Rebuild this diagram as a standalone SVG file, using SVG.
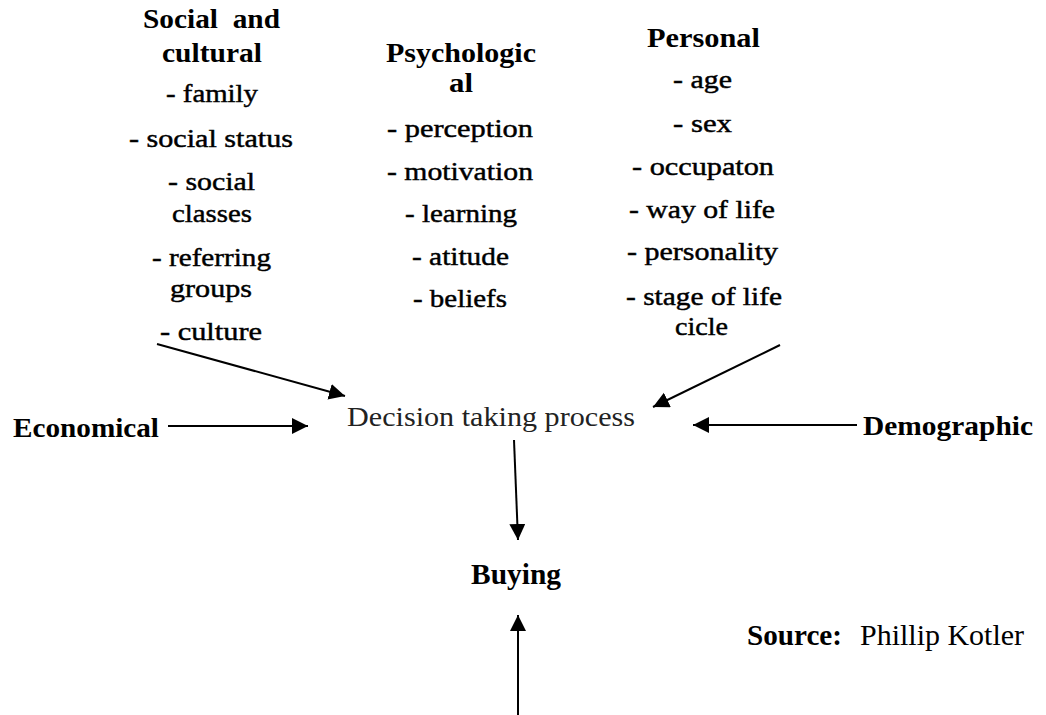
<svg xmlns="http://www.w3.org/2000/svg" width="1046" height="715" viewBox="0 0 1046 715">
<style>
text{font-family:"Liberation Serif","Times New Roman",serif;fill:#000}
.h{font-weight:bold;font-size:28px}
.i{font-size:26px;stroke:#000;stroke-width:0.45}
.big{font-weight:bold;font-size:28px}
.dec{font-size:28px;fill:#222}
.src{font-size:30px}
.c{stroke:#000;stroke-width:2;fill:none;marker-end:url(#ah)}
</style>
<defs>
<marker id="ah" markerUnits="userSpaceOnUse" markerWidth="17" markerHeight="17" refX="16" refY="8" orient="auto">
<path d="M0,0 L16,8 L0,16 z" fill="#000"/>
</marker>
</defs>
<rect width="1046" height="715" fill="#fff"/>
<g id="social-cultural">
<text class="h" x="143" y="28" textLength="137" lengthAdjust="spacingAndGlyphs" style="white-space:pre">Social  and</text>
<text class="h" x="162" y="62" textLength="100" lengthAdjust="spacingAndGlyphs">cultural</text>
<text class="i" x="166" y="102" textLength="92" lengthAdjust="spacingAndGlyphs">- family</text>
<text class="i" x="129" y="147" textLength="164" lengthAdjust="spacingAndGlyphs">- social status</text>
<text class="i" x="168" y="190" textLength="87" lengthAdjust="spacingAndGlyphs">- social</text>
<text class="i" x="172" y="222" textLength="80" lengthAdjust="spacingAndGlyphs">classes</text>
<text class="i" x="152" y="266" textLength="119" lengthAdjust="spacingAndGlyphs">- referring</text>
<text class="i" x="170" y="297" textLength="82" lengthAdjust="spacingAndGlyphs">groups</text>
<text class="i" x="160" y="340" textLength="102" lengthAdjust="spacingAndGlyphs">- culture</text>
</g>
<g id="psychological">
<text class="h" x="386" y="62" textLength="150" lengthAdjust="spacingAndGlyphs">Psychologic</text>
<text class="h" x="449" y="92" textLength="24" lengthAdjust="spacingAndGlyphs">al</text>
<text class="i" x="387" y="137" textLength="146" lengthAdjust="spacingAndGlyphs">- perception</text>
<text class="i" x="387" y="180" textLength="146" lengthAdjust="spacingAndGlyphs">- motivation</text>
<text class="i" x="405" y="222" textLength="112" lengthAdjust="spacingAndGlyphs">- learning</text>
<text class="i" x="412" y="265" textLength="97" lengthAdjust="spacingAndGlyphs">- atitude</text>
<text class="i" x="413" y="307" textLength="94" lengthAdjust="spacingAndGlyphs">- beliefs</text>
</g>
<g id="personal">
<text class="h" x="647" y="47" textLength="113" lengthAdjust="spacingAndGlyphs">Personal</text>
<text class="i" x="673" y="88" textLength="59" lengthAdjust="spacingAndGlyphs">- age</text>
<text class="i" x="673" y="132" textLength="59" lengthAdjust="spacingAndGlyphs">- sex</text>
<text class="i" x="632" y="175" textLength="142" lengthAdjust="spacingAndGlyphs">- occupaton</text>
<text class="i" x="629" y="218" textLength="146" lengthAdjust="spacingAndGlyphs">- way of life</text>
<text class="i" x="627" y="260" textLength="151" lengthAdjust="spacingAndGlyphs">- personality</text>
<text class="i" x="626" y="305" textLength="156" lengthAdjust="spacingAndGlyphs">- stage of life</text>
<text class="i" x="675" y="335" textLength="53" lengthAdjust="spacingAndGlyphs">cicle</text>
</g>
<g id="economical">
<text class="big" x="13" y="437" textLength="146" lengthAdjust="spacingAndGlyphs">Economical</text>
</g>
<g id="decision">
<text class="dec" x="347" y="426" textLength="288" lengthAdjust="spacingAndGlyphs">Decision taking process</text>
</g>
<g id="demographic">
<text class="big" x="863" y="435" textLength="170" lengthAdjust="spacingAndGlyphs">Demographic</text>
</g>
<g id="buying">
<text class="big" x="471" y="584" style="font-size:30px" textLength="90" lengthAdjust="spacingAndGlyphs">Buying</text>
</g>
<g id="source">
<text class="src" x="747" y="645" font-weight="bold" textLength="95" lengthAdjust="spacingAndGlyphs">Source:</text>
<text class="src" x="860" y="645" textLength="164" lengthAdjust="spacingAndGlyphs">Phillip Kotler</text>
</g>
<g id="connectors">
<line class="c" x1="157" y1="344" x2="345" y2="396"/>
<line class="c" x1="780" y1="345" x2="653" y2="407"/>
<line class="c" x1="168" y1="426" x2="308" y2="426"/>
<line class="c" x1="857" y1="425" x2="693" y2="425"/>
<line class="c" x1="514" y1="440" x2="518" y2="540"/>
<line class="c" x1="518" y1="715" x2="518" y2="615"/>
</g>
</svg>
